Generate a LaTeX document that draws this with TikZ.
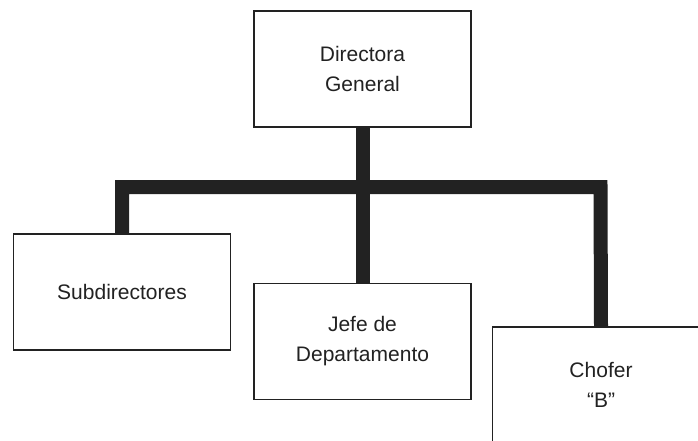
\documentclass[tikz,border=0pt]{standalone}
\usepackage{fontspec}
\setmainfont{Liberation Sans}
\definecolor{ink}{HTML}{222222}
\tikzset{
  orgbox/.style={draw=ink, line width=1.2pt, fill=white, minimum width=217pt, minimum height=116pt,
    inner sep=0pt, align=center, text=ink, font=\fontsize{21}{30}\selectfont},
  bar/.style={draw=ink, line width=14pt, line join=miter, line cap=butt}
}
\begin{document}
\begin{tikzpicture}[x=1pt,y=-1pt]
\clip (0,0) rectangle (698,440);
\fill[white] (0,0) rectangle (698,440);
\coordinate (barl) at (122,187);
\coordinate (barr) at (600.5,187);
\node[orgbox] (top) at (362.5,69) {Directora\\General};
\node[orgbox] (sub) at (122,292) {Subdirectores};
\node[orgbox] (jefe) at (362.5,341.5) {Jefe de\\Departamento};
\node[orgbox] (chofer) at (601,385) {Chofer\\“B”};
\draw[bar] (sub.north) -- (barl) -- (barr) -- (chofer.north);
\draw[bar] (top.south) -- (jefe.north);
\end{tikzpicture}
\end{document}
